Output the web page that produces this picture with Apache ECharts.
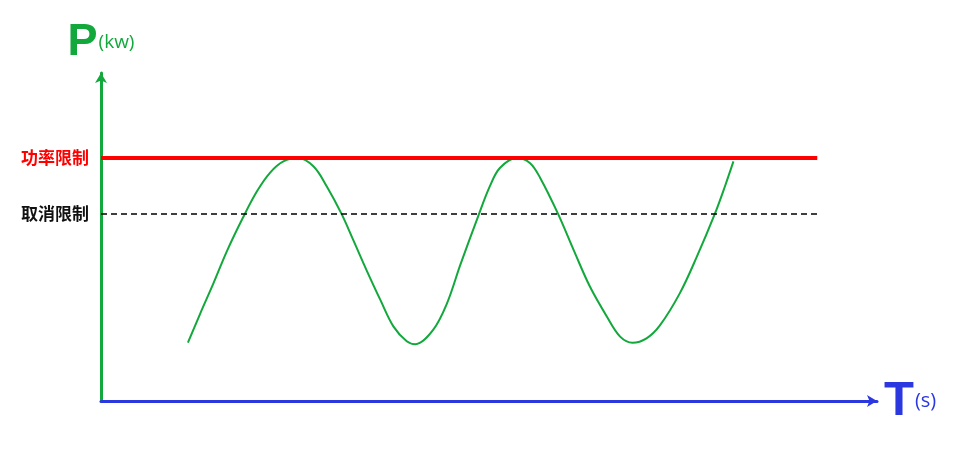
<!DOCTYPE html>
<html>
<head>
<meta charset="utf-8">
<title>功率限制</title>
<script src="https://cdn.jsdelivr.net/npm/echarts@6/dist/echarts.min.js"></script>
<style>
  html, body { margin: 0; padding: 0; background: #fff; }
  #chart { width: 961px; height: 456px; }
</style>
</head>
<body>
<div id="chart"></div>
<script>
// 时间 (s) 与功率 (kw) 曲线采样点，数值读自原图
const timeData = [
  11.2, 12.8, 14.5, 16.2, 18.3, 20.1, 21.8, 23.5, 25.4,
  27.4, 29.1, 31.0, 32.5, 34.2, 36.0, 37.7, 39.4, 40.5,
  42.8, 44.6, 46.3, 48.6, 50.1, 51.4, 53.6,
  55.3, 56.6, 58.9, 60.9, 63.0, 65.2, 66.9, 68.5,
  70.3, 72.0, 74.6, 76.8, 79.1, 80.4, 81.5,
]
const powerData = [
  24.0, 36.1, 48.5, 61.5, 75.5, 86.3, 94.0, 98.6, 100,
  96.5, 88.3, 77.0, 66.3, 54.0, 41.6, 30.6, 24.6, 23.4,
  29.3, 40.3, 56.0, 76.0, 88.3, 95.9, 100,
  97.9, 91.8, 77.0, 62.2, 47.1, 34.7, 26.5, 24.0,
  25.8, 31.0, 44.4, 59.5, 77.0, 88.3, 98.6,
]

// 限制线
const limitNames = ['功率限制', '取消限制']
const limitValues = [100, 77]
const limitEnd = 92.3

const axisMax = { x: 100, y: 135 }

const chart = echarts.init(document.getElementById('chart'), null, { renderer: 'canvas' })

const curve = timeData.map((t, i) => [t, powerData[i]])

const option = {
  animation: false,
  backgroundColor: '#fff',
  grid: {
    left: 101,
    right: 84,
    top: 73,
    bottom: 55,
  },
  xAxis: {
    type: 'value',
    min: 0,
    max: axisMax.x,
    name: '{big|T}{small|(s)}',
    nameLocation: 'end',
    nameGap: 7,
    nameTextStyle: {
      rich: {
        big: {
          fontSize: 49,
          fontWeight: 'bold',
          color: '#2b38e0',
          fontFamily: 'Liberation Sans',
        },
        small: {
          fontSize: 20,
          color: '#2b38e0',
          fontFamily: 'Open Sans',
          padding: [0, 0, 0, 1],
        },
      },
    },
    axisLine: {
      show: true,
      symbol: ['none', 'arrow'],
      symbolSize: [9, 10],
      lineStyle: { color: '#2b38e0', width: 3 },
    },
    axisTick: { show: false },
    axisLabel: { show: false },
    splitLine: { show: false },
  },
  yAxis: {
    type: 'value',
    min: 0,
    max: axisMax.y,
    name: '{big|P}{small|(kw)}',
    nameLocation: 'end',
    nameGap: 8,
    nameTextStyle: {
      rich: {
        big: {
          fontSize: 45,
          fontWeight: 'bold',
          color: '#12a83c',
          fontFamily: 'Liberation Sans',
        },
        small: {
          fontSize: 19,
          color: '#12a83c',
          fontFamily: 'Open Sans',
          padding: [0, 0, 0, 1],
        },
      },
    },
    axisLine: {
      show: true,
      symbol: ['none', 'arrow'],
      symbolSize: [9, 10],
      lineStyle: { color: '#12a83c', width: 3 },
    },
    axisTick: { show: false },
    axisLabel: { show: false },
    splitLine: { show: false },
  },
  series: [
    {
      type: 'line',
      data: curve,
      smooth: 0.35,
      showSymbol: false,
      lineStyle: { color: '#12a83c', width: 2 },
      z: 3,
      markLine: {
        silent: true,
        symbol: ['none', 'none'],
        data: [
          [
            {
              coord: [0, limitValues[0]],
              lineStyle: { color: '#ff0000', width: 4, type: 'solid' },
              label: {
                show: true,
                position: 'start',
                formatter: limitNames[0],
                color: '#ff0000',
                fontSize: 17,
                fontWeight: 'bold',
                fontFamily: 'Noto Sans CJK SC',
                distance: 12,
              },
            },
            { coord: [limitEnd, limitValues[0]] },
          ],
          [
            {
              coord: [0, limitValues[1]],
              lineStyle: { color: '#000', width: 1.5, type: [6, 4] },
              label: {
                show: true,
                position: 'start',
                formatter: limitNames[1],
                color: '#111',
                fontSize: 17,
                fontWeight: 'bold',
                fontFamily: 'Noto Sans CJK SC',
                distance: 12,
              },
            },
            { coord: [limitEnd, limitValues[1]] },
          ],
        ],
      },
    },
  ],
}

chart.setOption(option)
</script>
</body>
</html>
